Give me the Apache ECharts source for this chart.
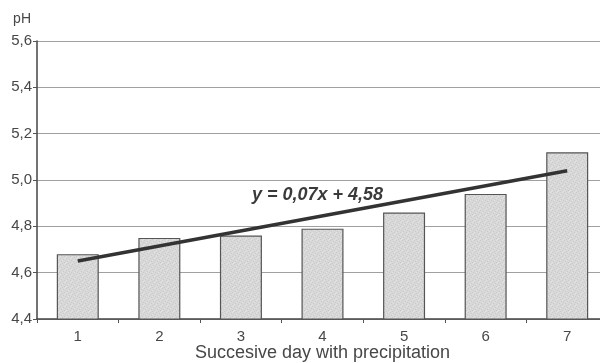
<!DOCTYPE html>
<html>
<head>
<meta charset="utf-8">
<script src="https://cdn.jsdelivr.net/npm/echarts@6/dist/echarts.min.js"></script>
<style>
  html, body { margin: 0; padding: 0; background: #fff; }
  #chart { width: 600px; height: 363px; }
</style>
</head>
<body>
<div id="chart"></div>
<script>
// Days with precipitation and mean pH of the rain on each day
const days = ['1', '2', '3', '4', '5', '6', '7'];
const phValues = [4.68, 4.75, 4.76, 4.79, 4.86, 4.94, 5.12];
// Linear trend drawn from the first to the last day
const trendEnds = [4.65, 5.04];
const trendLabel = 'y = 0,07x + 4,58';
const yTicks = { min: 4.4, max: 5.6, step: 0.2 };

const trendData = days.map((d, i) =>
  i === 0 ? trendEnds[0] : (i === days.length - 1 ? trendEnds[1] : null));

const ink = '#474747';
const font = '"Liberation Sans", Arial, sans-serif';

// Light stippled fill for the bars (fixed dot layout on a 6x6 tile)
function stipple() {
  const c = document.createElement('canvas');
  c.width = 6; c.height = 6;
  const g = c.getContext('2d');
  g.fillStyle = '#d8d8d8';
  g.fillRect(0, 0, 6, 6);
  g.fillStyle = '#cacaca';
  [[0, 0], [3, 1], [1, 3], [4, 4], [5, 2], [2, 5]].forEach(p => g.fillRect(p[0], p[1], 1, 1));
  g.fillStyle = '#e2e2e2';
  [[2, 2], [5, 5], [0, 4], [4, 0]].forEach(p => g.fillRect(p[0], p[1], 1, 1));
  return c;
}

const chart = echarts.init(document.getElementById('chart'), null, { renderer: 'canvas' });
chart.setOption({
  backgroundColor: '#ffffff',
  animation: false,
  grid: { left: 37, top: 41, height: 278, width: 571, outerBoundsMode: 'none', containLabel: false },
  xAxis: {
    type: 'category',
    data: days,
    name: 'Succesive day with precipitation',
    nameLocation: 'middle',
    nameGap: 25,
    nameMoveOverlap: false,
    nameTextStyle: { color: ink, fontSize: 18, fontFamily: font },
    axisLine: { lineStyle: { color: '#444', width: 1.5 } },
    axisTick: { show: true, length: 4, lineStyle: { color: '#555' } },
    axisLabel: { color: ink, fontSize: 15, fontFamily: font, margin: 10 },
    splitLine: { show: false }
  },
  yAxis: {
    type: 'value',
    min: yTicks.min,
    max: yTicks.max,
    interval: yTicks.step,
    name: 'pH',
    nameLocation: 'end',
    nameGap: 15,
    nameTextStyle: { color: ink, fontSize: 14, fontFamily: font, align: 'right', padding: [0, 6, 0, 0] },
    axisLine: { show: true, lineStyle: { color: '#444', width: 1.5 } },
    axisTick: { show: true, length: 4, lineStyle: { color: '#555' } },
    axisLabel: {
      color: ink, fontSize: 15, fontFamily: font, margin: 5,
      formatter: v => v.toFixed(1).replace('.', ',')
    },
    splitLine: { show: true, lineStyle: { color: '#a0a0a0', width: 1 } }
  },
  series: [
    {
      type: 'bar',
      data: phValues,
      barWidth: 42,
      itemStyle: {
        color: { image: stipple(), repeat: 'repeat' },
        borderColor: '#555', borderWidth: 1.2
      }
    },
    {
      type: 'line',
      data: trendData,
      connectNulls: true,
      symbol: 'none',
      lineStyle: { color: '#333', width: 3.5 },
      z: 5
    }
  ],
  graphic: [
    {
      type: 'text',
      left: 252,
      top: 186,
      style: {
        text: trendLabel,
        fill: '#3a3a3a',
        font: 'italic bold 18px ' + font
      }
    }
  ]
});
</script>
</body>
</html>
